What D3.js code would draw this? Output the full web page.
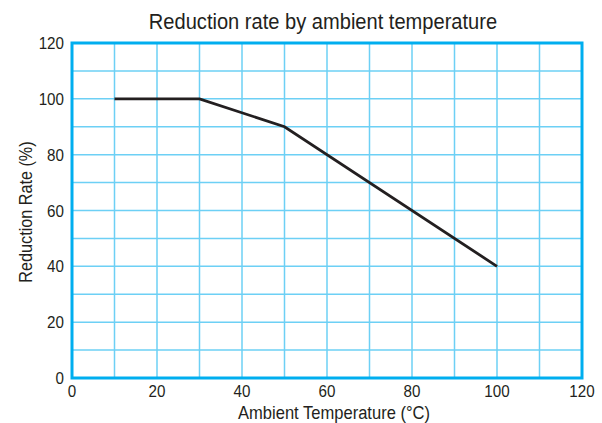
<!DOCTYPE html>
<html><head><meta charset="utf-8">
<script src="https://cdn.jsdelivr.net/npm/d3@7"></script>
<style>
html,body{margin:0;padding:0;background:#fff;}
svg text{font-family:"Liberation Sans Narrow","Arial Narrow","Liberation Sans",sans-serif;fill:#231f20;}
</style></head>
<body>
<svg id="c" width="602" height="423"></svg>
<script>
const temps = [10, 30, 50, 100];
const rates = [100, 100, 90, 40];
const xTicks = [0, 20, 40, 60, 80, 100, 120];
const yTicks = [0, 20, 40, 60, 80, 100, 120];
const xGrid = [10, 20, 30, 40, 50, 60, 70, 80, 90, 100, 110];
const yGrid = [10, 20, 30, 40, 50, 60, 70, 80, 90, 100, 110];
const title = "Reduction rate by ambient temperature";
const xTitle = "Ambient Temperature (°C)";
const yTitle = "Reduction Rate (%)";

const svg = d3.select("#c");
const L = 72, R = 582, T = 43, B = 378;
const x = d3.scaleLinear().domain([0, 120]).range([L, R]);
const y = d3.scaleLinear().domain([0, 120]).range([B, T]);

svg.append("g").selectAll("line").data(xGrid).join("line")
  .attr("x1", d => x(d)).attr("x2", d => x(d)).attr("y1", T).attr("y2", B)
  .attr("stroke", "#6dd0f5").attr("stroke-width", 1.5);
svg.append("g").selectAll("line").data(yGrid).join("line")
  .attr("y1", d => y(d)).attr("y2", d => y(d)).attr("x1", L).attr("x2", R)
  .attr("stroke", "#6dd0f5").attr("stroke-width", 1.5);

svg.append("rect").attr("x", L).attr("y", T).attr("width", R - L).attr("height", B - T)
  .attr("fill", "none").attr("stroke", "#00aeef").attr("stroke-width", 3);

const pts = temps.map((t, i) => [t, rates[i]]);
svg.append("path").datum(pts)
  .attr("d", d3.line().x(d => x(d[0])).y(d => y(d[1])))
  .attr("fill", "none").attr("stroke", "#231f20").attr("stroke-width", 2.8);

svg.append("g").selectAll("text").data(xTicks).join("text")
  .attr("transform", d => `translate(${x(d)},397) scale(0.95,1.05)`).attr("text-anchor", "middle")
  .attr("font-size", 16).text(d => d);
svg.append("g").selectAll("text").data(yTicks).join("text")
  .attr("transform", d => `translate(64,${y(d) + 6}) scale(0.95,1.05)`).attr("text-anchor", "end")
  .attr("font-size", 16).text(d => d);

svg.append("text").attr("transform", "translate(323,29) scale(0.874,1)").attr("text-anchor", "middle")
  .attr("font-size", 23).text(title);
svg.append("text").attr("transform", "translate(334,419) scale(0.92,1.05)").attr("text-anchor", "middle")
  .attr("font-size", 18).text(xTitle);
svg.append("text").attr("transform", "translate(32,212) rotate(-90) scale(0.9,1.05)").attr("text-anchor", "middle")
  .attr("font-size", 18).text(yTitle);
</script>
</body></html>
